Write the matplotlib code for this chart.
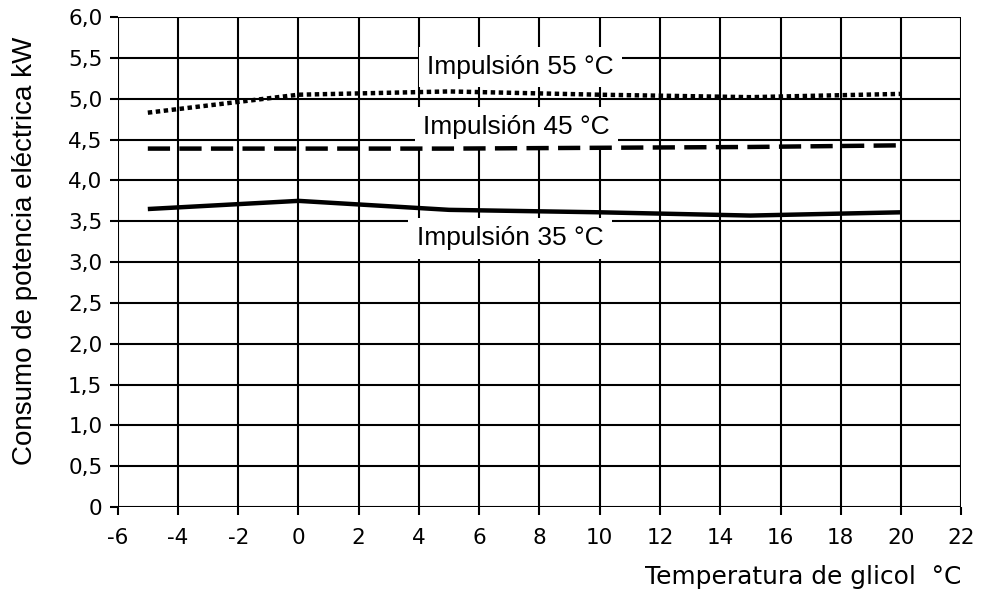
import matplotlib
matplotlib.use("Agg")
import matplotlib.pyplot as plt
from matplotlib.ticker import FuncFormatter

plt.rcParams['font.family'] = ['DejaVu Sans']
plt.rcParams['axes.unicode_minus'] = False

# glycol temperature (°C)
temp_glicol = [-5, 0, 5, 10, 15, 20]

# electrical power consumption (kW) per flow temperature
imp_35 = [3.65, 3.75, 3.64, 3.61, 3.57, 3.61]
imp_45 = [4.39, 4.39, 4.39, 4.40, 4.41, 4.43]
imp_55 = [4.83, 5.05, 5.09, 5.05, 5.02, 5.06]

labels = ["Impulsión 35 °C", "Impulsión 45 °C", "Impulsión 55 °C"]
label_pos = [(7.02, 3.29), (7.24, 4.65), (7.37, 5.39)]

xticks = list(range(-6, 23, 2))
yticks = [i * 0.5 for i in range(13)]

arial = ['Liberation Sans', 'DejaVu Sans']


def main():
    fig = plt.figure(figsize=(9.89, 5.91), dpi=100)
    ax = fig.add_axes([0.119, 0.142, 0.853, 0.829])

    ax.plot(temp_glicol, imp_35, color="black", lw=3.2, solid_capstyle="butt", zorder=3)
    ax.plot(temp_glicol, imp_45, color="black", lw=3.2, dashes=(5, 2.1), zorder=3)
    ax.plot(temp_glicol, imp_55, color="black", lw=3.2, dashes=(1, 0.8), zorder=3)

    for txt, (x, y) in zip(labels, label_pos):
        ax.text(x, y, txt, ha="center", va="center", fontsize=19, family=arial,
                zorder=2.5, bbox=dict(facecolor="white", edgecolor="none", pad=6))

    ax.set_xlim(-6, 22)
    ax.set_ylim(0, 6)
    ax.set_xticks(xticks)
    ax.set_yticks(yticks)
    ax.yaxis.set_major_formatter(FuncFormatter(
        lambda v, p: "0" if v == 0 else f"{v:.1f}".replace(".", ",")))
    ax.tick_params(labelsize=15.5, width=1.5, length=6, direction="out", color="black")
    ax.tick_params(axis="x", pad=9)
    ax.tick_params(axis="y", pad=5)
    ax.grid(True, color="black", lw=1.5)
    ax.set_axisbelow(True)
    for s in ax.spines.values():
        s.set_visible(False)

    ax.set_ylabel("Consumo de potencia eléctrica kW", fontsize=20, family=arial)
    ax.yaxis.set_label_coords(-0.095, 0.524)
    ax.set_xlabel("Temperatura de glicol  °C", fontsize=17.9, loc="right")
    ax.xaxis.set_label_coords(1.0, -0.143)
    ax.xaxis.label.set_va("center")

    fig.savefig("out.png", dpi=100)


if __name__ == "__main__":
    main()
